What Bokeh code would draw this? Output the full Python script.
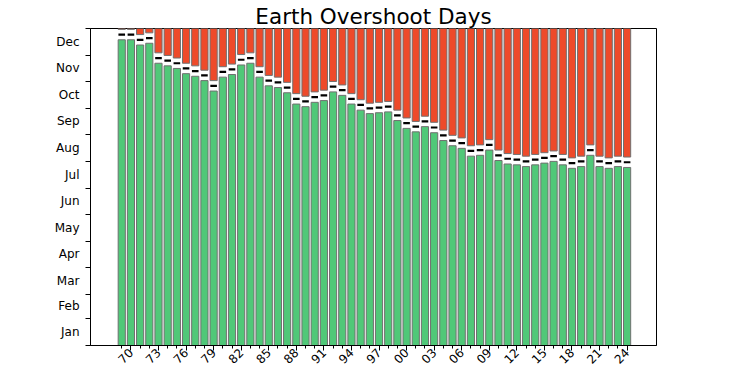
import math
import numpy as np
from bokeh.plotting import figure
from bokeh.models import Range1d, FixedTicker, ColumnDataSource
from bokeh.embed import file_html
from bokeh.resources import INLINE

years = list(range(1969, 2025))
overshoot_day = [358, 358, 352, 354, 331, 328, 325, 319, 316, 311,
                 299, 315, 318, 329, 331, 315, 305, 303, 297, 284,
                 281, 286, 288, 298, 294, 284, 277, 273, 274, 275,
                 265, 256, 252, 258, 251, 242, 236, 233, 224, 225,
                 231, 219, 215, 214, 212, 214, 216, 218, 214, 210,
                 212, 225, 212, 210, 212, 211]

month_names = ["Jan", "Feb", "Mar", "Apr", "May", "Jun",
               "Jul", "Aug", "Sep", "Oct", "Nov", "Dec"]
month_starts = [0, 31, 59, 90, 120, 151, 181, 212, 243, 273, 304, 334, 365]

x_tick_years = list(range(1970, 2025, 3))
x_tick_labels = ["70", "73", "76", "79", "82", "85", "88", "91", "94", "97",
                 "00", "03", "06", "09", "12", "15", "18", "21", "24"]

YEAR_END = 365
GAP = 6  # half height of the white separator, in days

day = np.array(overshoot_day, dtype=float)
src = ColumnDataSource(dict(
    year=years,
    day=day,
    green_top=day - GAP,
    red_bottom=np.minimum(day + GAP, YEAR_END),
    red_top=[YEAR_END] * len(years),
))

FONT = "DejaVu Sans"

p = figure(width=730, height=370, output_backend="svg", toolbar_location=None,
           x_range=Range1d(1965.6, 2027.2), y_range=Range1d(0, YEAR_END),
           min_border_left=90, min_border_right=74, min_border_top=28,
           min_border_bottom=0)

p.title.text = "Earth Overshoot Days"
p.title.align = "center"
p.title.text_font = FONT
p.title.text_font_size = "21.5px"
p.title.text_font_style = "normal"
p.title.text_color = "black"
p.title.standoff = 0
p.title.offset = 0

p.grid.visible = False
p.outline_line_color = "black"
p.outline_line_width = 1
p.background_fill_color = "white"
p.border_fill_color = "white"

green = "#50c878"
red = "#ee4a2a"
edge = "#707070"

p.vbar(x="year", bottom=0, top="green_top", width=0.78, source=src,
       fill_color=green, line_color=edge, line_width=1)
p.vbar(x="year", bottom="red_bottom", top="red_top", width=0.78, source=src,
       fill_color=red, line_color=edge, line_width=1)
p.rect(x="year", y="day", width=0.72, height=2.2, height_units="screen",
       source=src, fill_color="black", line_color=None)

# x axis
xa = p.xaxis[0]
xa.ticker = FixedTicker(ticks=x_tick_years, minor_ticks=years)
xa.major_label_overrides = {float(y): l for y, l in zip(x_tick_years, x_tick_labels)}
xa.major_label_orientation = math.pi / 4
xa.major_label_text_font = FONT
xa.major_label_text_font_size = "12px"
xa.major_label_text_color = "black"
xa.major_label_standoff = 0
xa.major_tick_out = 5
xa.major_tick_in = 0
xa.minor_tick_out = 3
xa.minor_tick_in = 0
xa.axis_line_color = "black"
xa.major_tick_line_color = "black"
xa.minor_tick_line_color = "black"

# y axis: labels at mid-month, ticks at month boundaries
mids = [(month_starts[i] + month_starts[i + 1]) / 2 for i in range(12)]
ya = p.yaxis[0]
ya.ticker = FixedTicker(ticks=mids, minor_ticks=month_starts)
ya.major_label_overrides = {float(m): n for m, n in zip(mids, month_names)}
ya.major_label_text_font = FONT
ya.major_label_text_font_size = "12px"
ya.major_label_text_color = "black"
ya.major_tick_out = 0
ya.major_tick_in = 0
ya.major_label_standoff = 6
ya.minor_tick_out = 5
ya.minor_tick_in = 0
ya.axis_line_color = "black"
ya.minor_tick_line_color = "black"

open("out.html", "w").write(file_html(p, INLINE))
